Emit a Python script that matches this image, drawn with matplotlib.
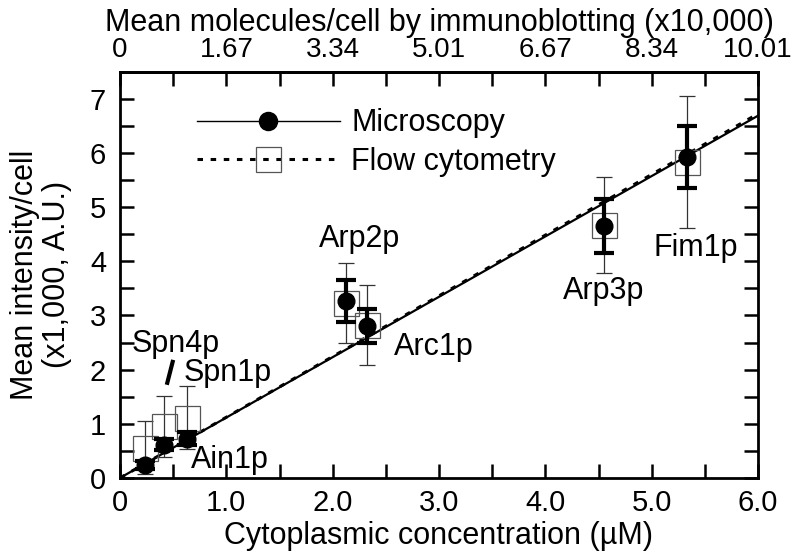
import numpy as np
import matplotlib
matplotlib.use('Agg')
import matplotlib.pyplot as plt
from matplotlib.lines import Line2D

plt.rcParams['font.family'] = ['Liberation Sans', 'DejaVu Sans']

# ====================== DATA ======================
proteins = ["Ain1p", "Spn4p", "Spn1p", "Arp2p", "Arc1p", "Arp3p", "Fim1p"]
conc_uM = [0.235, 0.41, 0.63, 2.13, 2.32, 4.55, 5.33]

# microscopy (filled circles, thick bars)
micro_mean = [0.24, 0.61, 0.72, 3.27, 2.81, 4.65, 5.93]
micro_err = [0.07, 0.10, 0.12, 0.39, 0.31, 0.50, 0.57]

# flow cytometry (open squares, thin bars)
flow_mean = [0.56, 0.95, 1.11, 3.23, 2.83, 4.67, 5.84]
flow_err = [0.49, 0.56, 0.58, 0.74, 0.74, 0.89, 1.22]

# linear fits through origin
slope_micro = 1.115
slope_flow = 1.121

# point label positions (data coords)
label_x = [1.03, 0.52, 1.01, 2.25, 2.95, 4.55, 5.41]
label_y = [0.33, 2.48, 1.93, 4.42, 2.42, 3.45, 4.25]
slash_x = [0.44, 0.50]
slash_y = [1.72, 2.18]

bottom_ticks = [0, 1, 2, 3, 4, 5, 6]
bottom_labels = ["0", "1.0", "2.0", "3.0", "4.0", "5.0", "6.0"]
top_labels = ["0", "1.67", "3.34", "5.01", "6.67", "8.34", "10.01"]
y_ticks = [0, 1, 2, 3, 4, 5, 6, 7]

# ====================== PLOTTING ======================
fig = plt.figure(figsize=(8, 5.57), dpi=100)
ax = fig.add_axes([0.15, 0.142, 0.7975, 0.729])

xfit = np.array([0.0, 6.0])
ax.plot(xfit, slope_micro * xfit, color='black', lw=1.6, zorder=2)
ax.plot(xfit, slope_flow * xfit, color='black', lw=2.2, dashes=(1.8, 2.5), zorder=2)

ax.errorbar(conc_uM, flow_mean, yerr=flow_err, fmt='s', ms=18, mfc='none',
            mec='#555555', mew=0.9, ecolor='#333333', elinewidth=0.9,
            capsize=6, capthick=0.9, zorder=3)
ax.errorbar(conc_uM, micro_mean, yerr=micro_err, fmt='o', ms=12, color='black',
            elinewidth=3, capsize=7.5, capthick=3, zorder=4)

for name, lx, ly in zip(proteins, label_x, label_y):
    ax.text(lx, ly, name, fontsize=22, ha='center', va='center')
ax.plot(slash_x, slash_y, color='black', lw=3, solid_capstyle='butt')

# legend
h_micro = Line2D([], [], color='black', lw=1.0, marker='o', ms=13)
h_flow = Line2D([], [], color='black', lw=2.2, dashes=(1.8, 2.5), marker='s',
                ms=18, mfc='none', mec='#555555', mew=0.9)
ax.legend([h_micro, h_flow], ["Microscopy", "Flow cytometry"], loc='upper left',
          bbox_to_anchor=(0.12, 0.91), frameon=False, fontsize=22,
          handlelength=4.7, handletextpad=0.36, labelspacing=0.28,
          borderpad=0, borderaxespad=0, numpoints=1)

ax.set_xlim(0, 6)
ax.set_ylim(0, 7.5)
ax.set_xticks(bottom_ticks, labels=bottom_labels)
ax.set_xticks(np.arange(0.5, 6, 1.0), minor=True)
ax.set_yticks(y_ticks)
ax.set_yticks(np.arange(0.5, 7.5, 1.0), minor=True)
ax.tick_params(which='both', direction='in', length=10, width=1.8,
               right=True, top=False, labelsize=21)
ax.tick_params(axis='y', pad=10)
ax.tick_params(axis='x', pad=8)
for s in ax.spines.values():
    s.set_linewidth(2)

sec = ax.secondary_xaxis('top')
sec.set_xticks(bottom_ticks, labels=top_labels)
sec.set_xticks(np.arange(0.5, 6, 1.0), minor=True)
sec.tick_params(which='both', direction='in', length=10, width=1.8,
                labelsize=20, pad=6.5)
sec.spines['top'].set_linewidth(2)
sec.set_xlabel("Mean molecules/cell by immunoblotting (x10,000)", fontsize=22, labelpad=4)

ax.set_xlabel("Cytoplasmic concentration (µM)", fontsize=22, labelpad=3)
ax.set_ylabel("Mean intensity/cell\n(x1,000, A.U.)", fontsize=22, linespacing=1.1, labelpad=13)

plt.savefig("out.png", dpi=100)
